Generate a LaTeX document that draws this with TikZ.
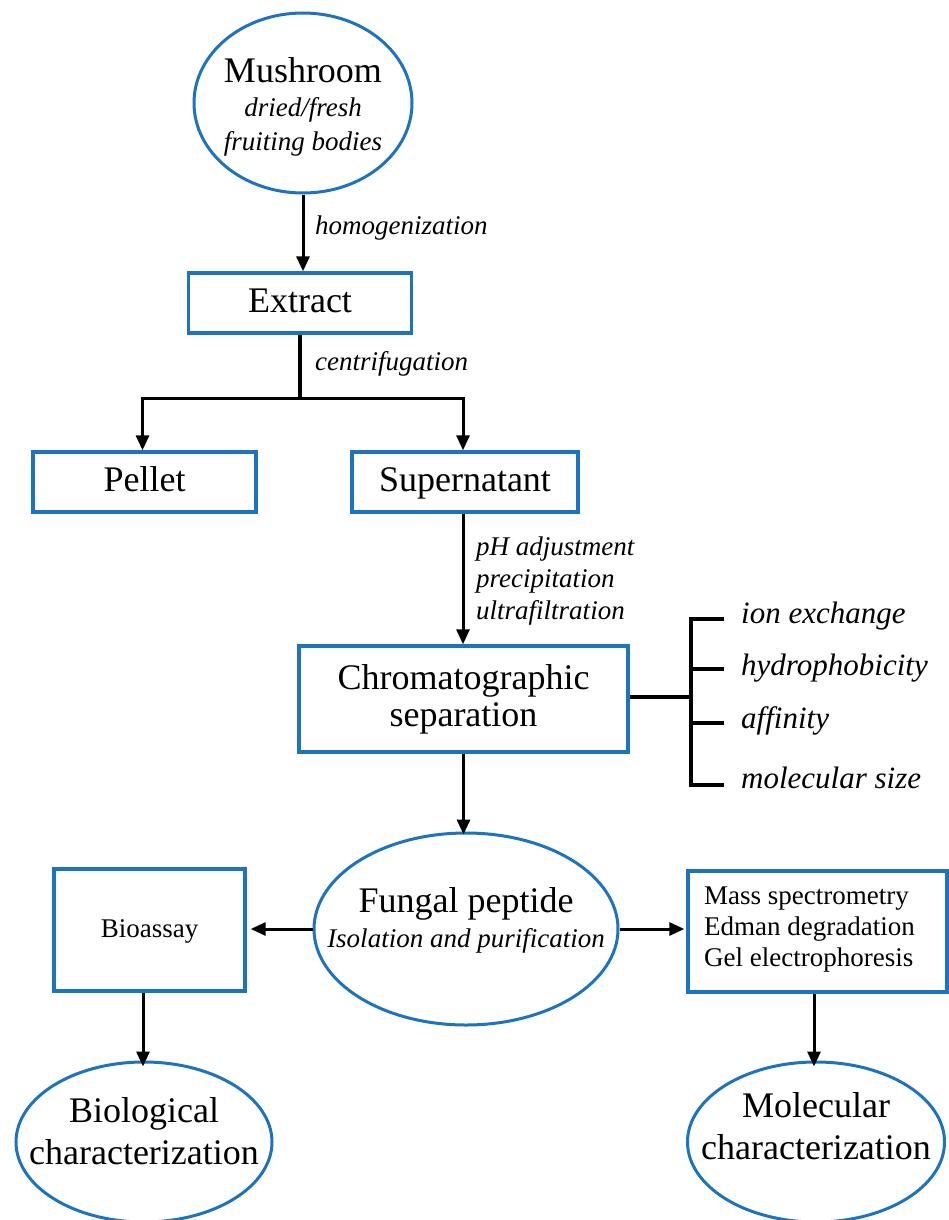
\documentclass[tikz,border=0pt]{standalone}
\usepackage{fontspec}
\setmainfont{Liberation Serif}
\usetikzlibrary{arrows.meta,shapes.geometric,calc}
\definecolor{myblue}{RGB}{30,115,190}
\newcommand\fsA{\fontsize{36}{40}\selectfont}
\newcommand\fsB{\fontsize{27}{32}\selectfont}
\newcommand\fsC{\fontsize{31}{36}\selectfont}
\tikzset{
  boxnode/.style={draw=myblue, line width=3.4pt, rectangle, inner sep=0pt, align=center},
  ovalnode/.style={draw=myblue, line width=3pt, ellipse, inner sep=0pt},
  bigtext/.style={font=\fsA, inner sep=0pt, text height=25pt, text depth=7pt},
  smalltext/.style={font=\fsB, inner sep=0pt, text height=19pt, text depth=5pt},
  smallit/.style={font=\fsB\itshape, inner sep=0pt, text height=19pt, text depth=5pt},
  sideit/.style={font=\fsC\itshape, inner sep=0pt, text height=22pt, text depth=6pt, anchor=west},
  arr/.style={draw=black, line width=3pt, -{Triangle[length=15pt,width=13pt]}},
  plainline/.style={draw=black, line width=3.2pt}
}
\begin{document}
\begin{tikzpicture}[x=1pt,y=-1pt]
\path[use as bounding box, clip] (0,0) rectangle (949,1220);
\fill[white] (0,0) rectangle (949,1220);

% Mushroom
\node[ovalnode, minimum width=218pt, minimum height=180pt] (mush) at (303,103) {};
\node[bigtext] (mushT) at (303,74) {Mushroom};
\node[smallit] (mushA) at (303,110) {dried/fresh};
\node[smallit] (mushB) at (303,143) {fruiting bodies};

% Extract
\node[boxnode, minimum width=223pt, minimum height=60pt, bigtext] (ext) at (300,303) {Extract};
\draw[arr] (mush.south) -- (mush.south |- ext.north);
\node[smallit, anchor=west] (homo) at (315,227) {homogenization};

% Pellet & Supernatant
\node[boxnode, minimum width=223pt, minimum height=60pt, bigtext] (pel) at (144.5,482) {Pellet};
\node[boxnode, minimum width=226pt, minimum height=60pt, bigtext] (sup) at (465,482) {Supernatant};
\coordinate (split) at ($(ext.south)+(0,64)$);
\draw[plainline] (ext.south) -- (split);
\draw[arr] (split) -| ([xshift=-2pt]pel.north);
\draw[arr] (split) -| ([xshift=-2pt]sup.north);
\node[smallit, anchor=west] (centri) at (315,363) {centrifugation};

% Chromatographic separation
\node[boxnode, minimum width=329pt, minimum height=106pt, font=\fsA, inner sep=0pt] (chr) at (463.5,699) {\raisebox{-3pt}{Chromatographic}\\[0pt]separation};
\draw[arr] ([xshift=-2pt]sup.south) -- ([xshift=-2pt]sup.south |- chr.north);
\node[smallit, anchor=west] (ph) at (476,548) {pH adjustment};
\node[smallit, anchor=west] (prec) at (476,580) {precipitation};
\node[smallit, anchor=west] (ultra) at (476,612) {ultrafiltration};

% bracket
\coordinate (brM) at (691,697);
\coordinate (brT) at (691,619);
\coordinate (brB) at (691,785);
\coordinate (tk1) at (724,619);
\coordinate (tk2) at (724,669);
\coordinate (tk3) at (724,723);
\coordinate (tk4) at (724,785);
\draw[plainline] (chr.east |- brM) -- (brM);
\draw[plainline] (tk1) -- (brT) -- (brB) -- (tk4);
\draw[plainline] (brT |- tk2) -- (tk2);
\draw[plainline] (brT |- tk3) -- (tk3);
\node[sideit] (ion) at (741,615) {ion exchange};
\node[sideit] (hyd) at (741,667) {hydrophobicity};
\node[sideit] (aff) at (741,720) {affinity};
\node[sideit] (mol) at (741,780) {molecular size};

% Fungal peptide
\node[ovalnode, minimum width=304pt, minimum height=192pt] (fp) at (466,929) {};
\node[bigtext] (fpT) at (466,903) {Fungal peptide};
\node[smallit] (fpS) at (466,940) {Isolation and purification};
\draw[arr] (chr.south) -- ([yshift=-3pt]chr.south |- fp.north);

% Bioassay
\node[boxnode, minimum width=191pt, minimum height=122pt, smalltext] (bio) at (149.5,930) {Bioassay};
\draw[arr] (fp.west) -- ([xshift=4pt]bio.east |- fp.west);

% Mass spec box
\node[boxnode, minimum width=259pt, minimum height=121pt] (ms) at (817.5,931.5) {};
\node[font=\fsB, align=left, anchor=west, inner sep=0pt] (msT) at (704,930) {Mass spectrometry\\[-1pt]Edman degradation\\[-1pt]Gel electrophoresis};
\draw[arr] (fp.east) -- ([xshift=-2pt]ms.west |- fp.east);

% Biological characterization
\node[ovalnode, minimum width=256pt, minimum height=160pt] (bc) at (144,1142) {};
\node[bigtext] (bcA) at (144,1113) {Biological};
\node[bigtext] (bcB) at (144,1155) {characterization};
\draw[arr] (bio.south -| 143,0) -- ([yshift=-6pt]bc.north -| 143,0);

% Molecular characterization
\node[ovalnode, minimum width=257pt, minimum height=160pt] (mc) at (816,1142) {};
\node[bigtext] (mcA) at (816,1108) {Molecular};
\node[bigtext] (mcB) at (816,1150) {characterization};
\draw[arr] (ms.south -| 814,0) -- ([yshift=-6pt]mc.north -| 814,0);
\end{tikzpicture}
\end{document}
